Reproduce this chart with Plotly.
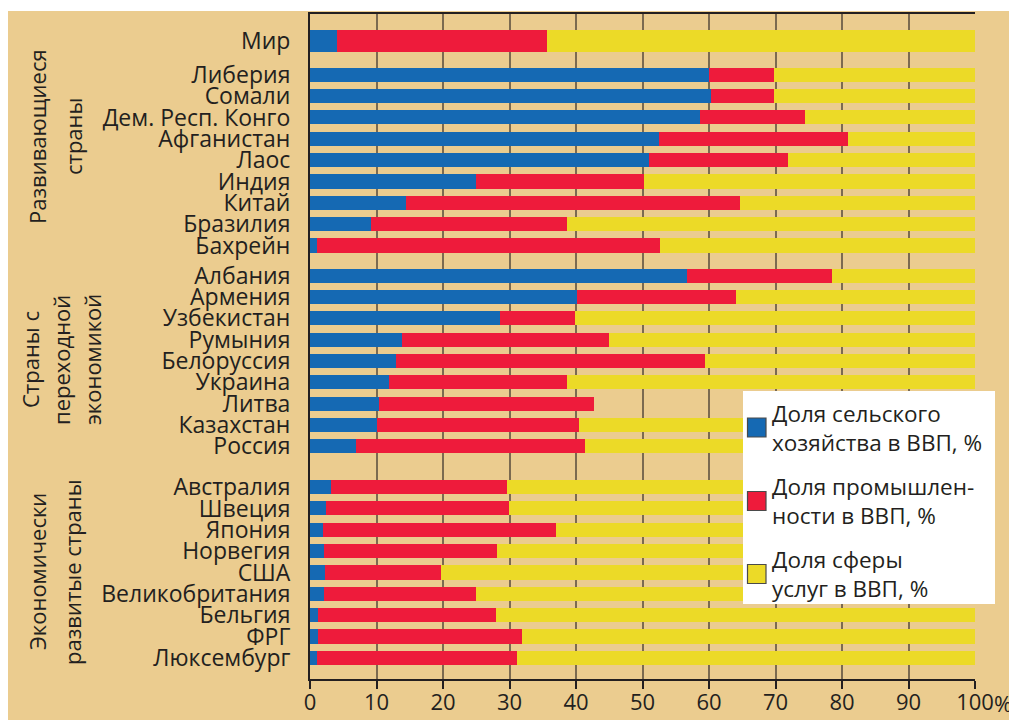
import plotly.graph_objects as go

# ---- data -------------------------------------------------------------
COUNTRIES = [
    "Мир",
    "Либерия", "Сомали", "Дем. Респ. Конго", "Афганистан", "Лаос",
    "Индия", "Китай", "Бразилия", "Бахрейн",
    "Албания", "Армения", "Узбекистан", "Румыния", "Белоруссия",
    "Украина", "Литва", "Казахстан", "Россия",
    "Австралия", "Швеция", "Япония", "Норвегия", "США",
    "Великобритания", "Бельгия", "ФРГ", "Люксембург",
]
GROUP_SIZES = [1, 9, 9, 9]

AGRICULTURE = [
    4.1,
    60.0, 60.3, 58.7, 52.5, 51.0, 24.9, 14.4, 9.2, 1.0,
    56.7, 40.2, 28.5, 13.9, 12.9, 11.9, 10.3, 10.0, 6.9,
    3.2, 2.4, 2.0, 2.1, 2.2, 2.1, 1.2, 1.2, 1.1,
]
INDUSTRY = [
    31.6,
    9.8, 9.5, 15.7, 28.4, 20.9, 25.3, 50.2, 29.5, 51.7,
    21.8, 23.8, 11.4, 31.1, 46.5, 26.8, 32.4, 30.4, 34.5,
    26.4, 27.5, 35.0, 26.0, 17.5, 22.8, 26.8, 30.7, 30.1,
]
SERVICES = [
    64.3,
    30.2, 30.2, 25.6, 19.1, 28.1, 49.8, 35.4, 61.3, 47.3,
    21.5, 36.0, 60.1, 55.0, 40.6, 61.3, None, 59.6, 58.6,
    70.4, 70.1, 63.0, 71.9, 80.3, 75.1, 72.0, 68.1, 68.8,
]

SERIES_NAMES = [
    "Доля сельского<br>хозяйства в ВВП, %",
    "Доля промышлен-<br>ности в ВВП, %",
    "Доля сферы<br>услуг в ВВП, %",
]
GROUP_TITLES = [
    ["Развивающиеся", "страны"],
    ["Страны с", "переходной", "экономикой"],
    ["Экономически", "развитые страны"],
]
X_TICKS = [0, 10, 20, 30, 40, 50, 60, 70, 80, 90, 100]

# ---- style ------------------------------------------------------------
OFF = 8                       # page body margin
WIN_W, WIN_H = 1017, 720
W, H = WIN_W - OFF, WIN_H - OFF
X0, X1, Y0, Y1 = 310, 975, 14, 679   # plot area in window pixels
TAN = "#EBCC8F"
BLUE = "#1569B3"
RED = "#EE1B3B"
YELLOW = "#ECDA27"
INK = "#231F20"
GRID = "#7B6A50"
FONT = "Open Sans, Noto Sans, sans-serif"

GROUP_GAPS = [0.576, 0.41, 0.906]   # extra space before groups 1..3 (in rows)

PW, PH = X1 - X0, Y1 - Y0


def px_x(x):
    return (x - X0) / PW


def px_y(y):
    return (Y1 - y) / PH


# row positions along y
positions, widths = [], []
pos = 0.0
for g, n in enumerate(GROUP_SIZES):
    if g > 0:
        pos += GROUP_GAPS[g - 1]
    for _ in range(n):
        positions.append(pos)
        widths.append(1.0 if g == 0 else 0.66)
        pos += 1

fig = go.Figure()
for vals, col, name in zip([AGRICULTURE, INDUSTRY, SERVICES],
                           [BLUE, RED, YELLOW], SERIES_NAMES):
    fig.add_trace(go.Bar(
        x=vals, y=positions, width=widths, orientation="h",
        marker=dict(color=col, line=dict(width=0)),
        name=name, showlegend=False,
    ))

# white strip at the top/left edge of the page
shapes = [dict(type="rect", xref="paper", yref="paper", layer="below",
               x0=px_x(OFF - 2), x1=px_x(WIN_W + 5), y0=px_y(11), y1=px_y(OFF - 2),
               fillcolor="white", line=dict(width=0))]
annotations = []

# custom legend
shapes.append(dict(type="rect", xref="paper", yref="paper",
                   x0=px_x(743), x1=px_x(995), y0=px_y(604), y1=px_y(391),
                   fillcolor="white", line=dict(width=0)))
for cy, col, name in zip([427.5, 501, 574], [BLUE, RED, YELLOW], SERIES_NAMES):
    shapes.append(dict(type="rect", xref="paper", yref="paper",
                       x0=px_x(747.5), x1=px_x(766), y0=px_y(cy + 9.5), y1=px_y(cy - 9.5),
                       fillcolor=col, line=dict(color="#4a4a4a", width=1.2)))
    annotations.append(dict(xref="paper", yref="paper", x=px_x(770), y=px_y(cy),
                            xanchor="left", yanchor="middle", align="left",
                            text=name, showarrow=False,
                            font=dict(size=22.5, color=INK, family=FONT)))

# group titles (rotated)
title_lines = [
    (GROUP_TITLES[0], [37, 73], 137),
    (GROUP_TITLES[1], [30, 61, 92], 360),
    (GROUP_TITLES[2], [37, 72], 572),
]
for lines, xs, cy in title_lines:
    for line, cx in zip(lines, xs):
        annotations.append(dict(xref="paper", yref="paper", x=px_x(cx), y=px_y(cy),
                                xanchor="center", yanchor="middle", textangle=-90,
                                text=line, showarrow=False,
                                font=dict(size=22, color=INK, family=FONT)))

# "%" after the last tick label
annotations.append(dict(xref="x", yref="paper", x=100, y=px_y(703),
                        xanchor="left", yanchor="middle", xshift=17,
                        text="%", showarrow=False,
                        font=dict(size=22, color=INK, family=FONT)))

fig.update_layout(
    width=W, height=H,
    margin=dict(l=X0 - OFF, r=WIN_W - X1, t=Y0 - OFF, b=WIN_H - Y1, pad=0),
    paper_bgcolor=TAN,
    plot_bgcolor=TAN,
    barmode="stack",
    bargap=0,
    font=dict(family=FONT, color=INK, size=22),
    shapes=shapes,
    annotations=annotations,
    xaxis=dict(
        range=[0, 100], tickvals=X_TICKS,
        ticktext=[str(v) for v in X_TICKS],
        showgrid=True, gridcolor=GRID, gridwidth=1.5,
        zeroline=False, automargin=False,
        showline=True, linecolor=INK, linewidth=2, mirror=True,
        ticks="outside", ticklen=8, tickwidth=1.5, tickcolor=INK,
        ticklabelstandoff=-5,
        tickfont=dict(size=22, color=INK),
        fixedrange=True,
    ),
    yaxis=dict(
        range=[positions[-1] + 0.99, -1.27],
        tickvals=positions, ticktext=COUNTRIES,
        showgrid=False, zeroline=False, automargin=False,
        showline=True, linecolor=INK, linewidth=2,
        ticks="", ticklabelstandoff=13,
        tickfont=dict(size=23, color=INK),
        fixedrange=True,
    ),
)

fig.write_html("out.html")
